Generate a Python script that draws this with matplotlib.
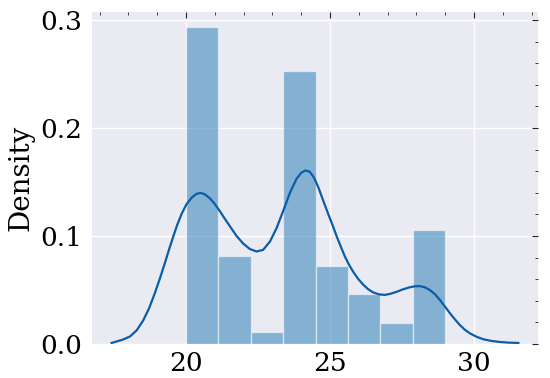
import matplotlib
matplotlib.use("Agg")
import matplotlib.pyplot as plt
from matplotlib.ticker import MultipleLocator
import numpy as np

# histogram (density)
bin_edges = [20.0, 21.125, 22.25, 23.375, 24.5, 25.625, 26.75, 27.875, 29.0]
bin_density = [0.2935, 0.0818, 0.0108, 0.2528, 0.0725, 0.046, 0.0197, 0.1053]

# kde curve, read point by point
kde_x = [17.42, 17.80, 18.06, 18.30, 18.52, 18.72, 18.92, 19.10, 19.27, 19.42,
         19.56, 19.70, 19.85, 20.02, 20.20, 20.35, 20.49, 20.65, 20.83, 20.98,
         21.18, 21.35, 21.53, 21.76, 21.99, 22.22, 22.45, 22.68, 22.92, 23.15,
         23.38, 23.61, 23.84, 24.00, 24.15, 24.30, 24.45, 24.60, 24.75, 24.94,
         25.10, 25.23, 25.38, 25.52, 25.66, 25.81, 25.98, 26.16, 26.33, 26.50,
         26.70, 26.91, 27.10, 27.32, 27.52, 27.75, 27.95, 28.13, 28.30, 28.47,
         28.65, 28.82, 29.00, 29.17, 29.34, 29.51, 29.68, 29.86, 30.10, 30.33,
         30.60, 30.90, 31.20, 31.54]
kde_y = [0.001, 0.004, 0.007, 0.013, 0.022, 0.033, 0.047, 0.061, 0.075, 0.088,
         0.0995, 0.1105, 0.1205, 0.1295, 0.1355, 0.1388, 0.1400, 0.1388, 0.1350, 0.1305,
         0.1230, 0.1160, 0.1090, 0.1000, 0.0930, 0.0880, 0.0857, 0.0872, 0.0950, 0.1075,
         0.1235, 0.1400, 0.1530, 0.1585, 0.1608, 0.1595, 0.1540, 0.1450, 0.1340, 0.1205,
         0.1095, 0.1000, 0.0900, 0.0810, 0.0735, 0.0668, 0.0603, 0.0548, 0.0507, 0.0478,
         0.0460, 0.0455, 0.0465, 0.0484, 0.0505, 0.0524, 0.0535, 0.0536, 0.0525, 0.0500,
         0.0460, 0.0407, 0.0345, 0.0284, 0.0228, 0.0176, 0.0133, 0.0099, 0.0066, 0.0044,
         0.0029, 0.0019, 0.0013, 0.001]

plt.rcParams['font.family'] = 'DejaVu Serif'

fig = plt.figure(figsize=(5.5, 3.78), dpi=100)
ax = fig.add_axes([0.1673, 0.0899, 0.8107, 0.8783])
ax.set_facecolor('#EAEAF2')
for sp in ax.spines.values():
    sp.set_visible(False)

widths = np.diff(bin_edges)
ax.bar(bin_edges[:-1], bin_density, width=widths, align='edge',
       color='#1f77b4', alpha=0.5, edgecolor='white', linewidth=1.0, zorder=2)
ax.plot(kde_x, kde_y, color='#0A5DA8', linewidth=1.6, zorder=3,
        solid_joinstyle='round')

ax.grid(True, color='white', linewidth=1.0, zorder=1)
ax.set_axisbelow(True)

ax.xaxis.set_major_locator(MultipleLocator(5))
ax.xaxis.set_minor_locator(MultipleLocator(1))
ax.yaxis.set_major_locator(MultipleLocator(0.1))
ax.yaxis.set_minor_locator(MultipleLocator(0.02))
ax.set_xlim(16.74, 32.22)
ax.set_ylim(0, 0.3075)

ax.tick_params(which='both', direction='in', top=True, right=True,
               bottom=False, left=False, labelsize=19, color='#222222')
ax.tick_params(axis='x', which='both', pad=5)
ax.tick_params(axis='y', which='both', pad=7)
ax.tick_params(which='major', length=4, width=0.8)
ax.tick_params(which='minor', length=2, width=0.6)
ax.set_ylabel('Density', fontsize=20, labelpad=4)

fig.savefig('out.png', dpi=100)
